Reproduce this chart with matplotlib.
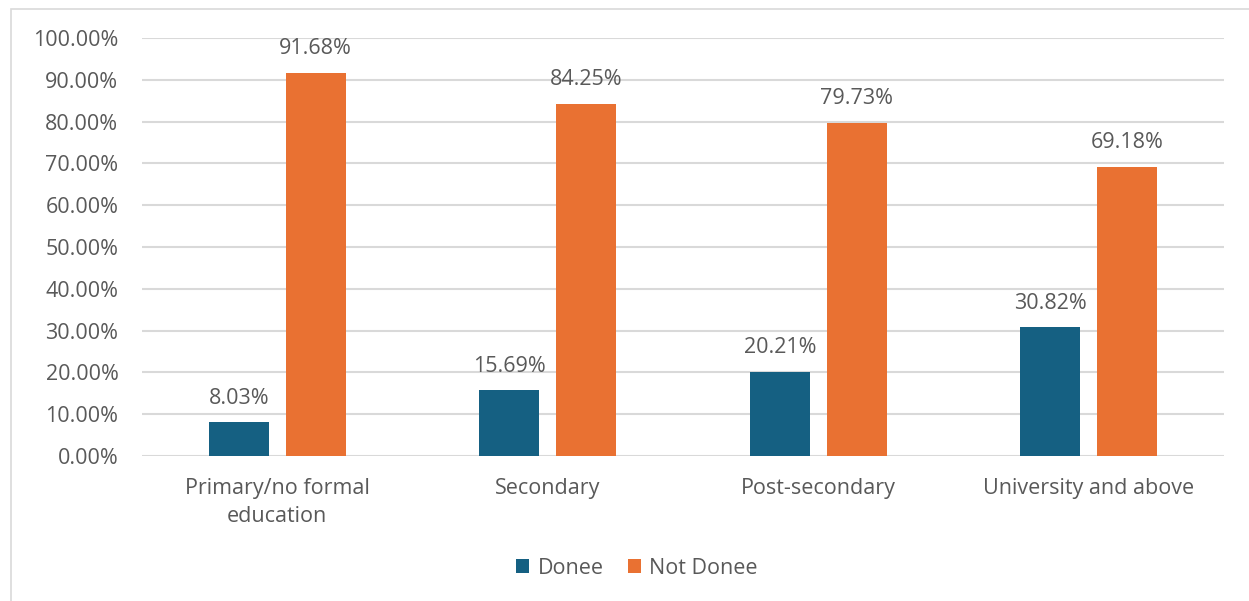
import matplotlib.pyplot as plt
import numpy as np
from matplotlib.patches import Rectangle

categories = ["Primary/no formal\neducation", "Secondary", "Post-secondary", "University and above"]
donee = [8.03, 15.69, 20.21, 30.82]
not_donee = [91.68, 84.25, 79.73, 69.18]
yticks = np.arange(0, 101, 10)

plt.rcParams['font.family'] = ['Open Sans', 'DejaVu Sans']
txt = '#595959'
blue = '#156082'
orange = '#e97132'
fs = 15.5

fig = plt.figure(figsize=(12.49, 6.01), dpi=100)
ax = fig.add_axes([142/1249, 1 - 456/601, 1082/1249, 418/601])

x = np.arange(len(categories))
w = 0.222
off = 0.142
b1 = ax.bar(x - off, donee, w, color=blue, label='Donee', zorder=3)
b2 = ax.bar(x + off, not_donee, w, color=orange, label='Not Donee', zorder=3)

for bars, vals in ((b1, donee), (b2, not_donee)):
    for b, v in zip(bars, vals):
        ax.text(b.get_x() + b.get_width() / 2, v + 3.2, f"{v:.2f}%",
                ha='center', va='bottom', fontsize=fs, color=txt)

ax.set_xlim(-0.5, 3.5)
ax.set_ylim(0, 100)
ax.set_yticks(yticks)
ax.set_yticklabels([f"{t:.2f}%" for t in yticks])
ax.set_xticks(x)
ax.set_xticklabels(categories, linespacing=1.45)
ax.tick_params(axis='both', length=0, labelsize=fs, labelcolor=txt)
ax.tick_params(axis='y', pad=17)
ax.tick_params(axis='x', pad=16)
ax.grid(axis='y', color='#d9d9d9', linewidth=1.5, zorder=0)
for s in ax.spines.values():
    s.set_visible(False)

ax.legend(loc='center', bbox_to_anchor=(637/1249, 1 - 568/601), bbox_transform=fig.transFigure,
          ncol=2, frameon=False, fontsize=fs, labelcolor=txt,
          handlelength=0.6, handleheight=0.6, handletextpad=0.4, columnspacing=1.1)

fig.patches.append(Rectangle((11/1249, -0.1), 1.2, 1 - 9/601 + 0.1, transform=fig.transFigure,
                             fill=False, edgecolor='#d9d9d9', linewidth=1.2))

fig.savefig('out.png', dpi=100)
